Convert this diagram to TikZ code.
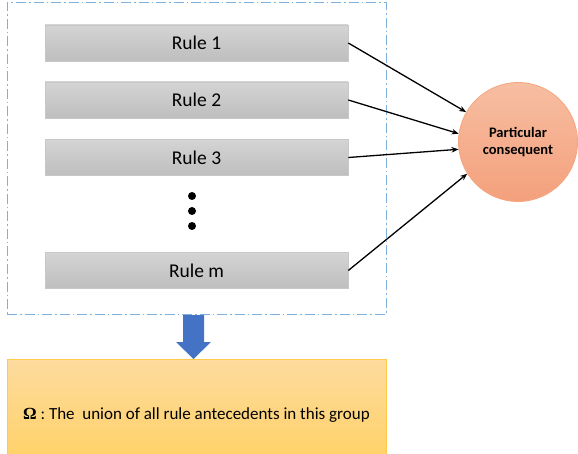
\documentclass[tikz,border=0pt]{standalone}
\usepackage{fontspec}
\setmainfont{Carlito}
\newfontfamily\omegafont{Liberation Serif}
\usetikzlibrary{arrows.meta}
\definecolor{dashblue}{HTML}{7FB0DE}
\definecolor{ruletop}{HTML}{D4D4D4}
\definecolor{rulebot}{HTML}{BEBEBE}
\definecolor{ruleedge}{HTML}{C8C8C8}
\definecolor{circtop}{HTML}{F7BEA2}
\definecolor{circbot}{HTML}{F4A07C}
\definecolor{circedge}{HTML}{F4A67E}
\definecolor{boxtop}{HTML}{FDDB9E}
\definecolor{boxbot}{HTML}{FFD26A}
\definecolor{boxedge}{HTML}{FFC94A}
\definecolor{arrowblue}{HTML}{4472C4}
\tikzset{
  rulebox/.style={draw=ruleedge, line width=0.6pt, top color=ruletop, bottom color=rulebot,
    minimum width=303pt, minimum height=36pt, inner sep=0pt, font=\fontsize{19.5}{22}\selectfont, text=black},
  conn/.style={-{Stealth[length=7pt,width=5.5pt]}, line width=1.3pt, black},
  dotmark/.style={circle, fill=black, minimum size=8pt, inner sep=0pt}
}
\begin{document}
\begin{tikzpicture}[x=1pt,y=-1pt]
\useasboundingbox (0,0) rectangle (578,454);
% group frame
\node[draw=dashblue, dash pattern=on 10pt off 3pt on 1.5pt off 3pt, line width=1pt,
  minimum width=379pt, minimum height=311pt, inner sep=0pt] (frame) at (196.5,158.5) {};
% rules
\node[rulebox] (r1) at (196.5,43) {Rule 1};
\node[rulebox] (r2) at (196.5,100) {Rule 2};
\node[rulebox] (r3) at (196.5,157.5) {Rule 3};
\node[rulebox] (rm) at (196.5,270.5) {Rule m};
% dots
\node[dotmark] (d1) at (192,196) {};
\node[dotmark] (d2) at (192,211) {};
\node[dotmark] (d3) at (192,226) {};
% consequent
\node[circle, draw=circedge, line width=0.8pt, top color=circtop, bottom color=circbot,
  minimum size=119pt, inner sep=0pt, align=center,
  font=\fontsize{14.5}{17.5}\selectfont\bfseries, text=black] (pc) at (518,142) {Particular\\consequent};
% connectors
\draw[conn] (r1.east) -- (pc.150);
\draw[conn] (r2.east) -- (pc.172);
\draw[conn] (r3.east) -- (pc.187);
\draw[conn] (rm.east) -- (pc.212);
% result box
\node[draw=boxedge, line width=0.8pt, top color=boxtop, bottom color=boxbot,
  minimum width=379pt, minimum height=95pt, inner sep=0pt, anchor=north west] (omega) at (7,359) {};
\node[font=\fontsize{17}{20}\selectfont, text=black] (omegatext) at (196.5,415) {{\omegafont\bfseries Ω} : The\ \ union of all rule antecedents in this group};
% blue arrow (block arrow from frame to result box)
\coordinate (tip) at (193.5,359);
\fill[arrowblue] (183,315) -- (204,315) -- (204,342) -- (211,342) -- (tip) -- (176,342) -- (183,342) -- cycle;
\end{tikzpicture}
\end{document}
